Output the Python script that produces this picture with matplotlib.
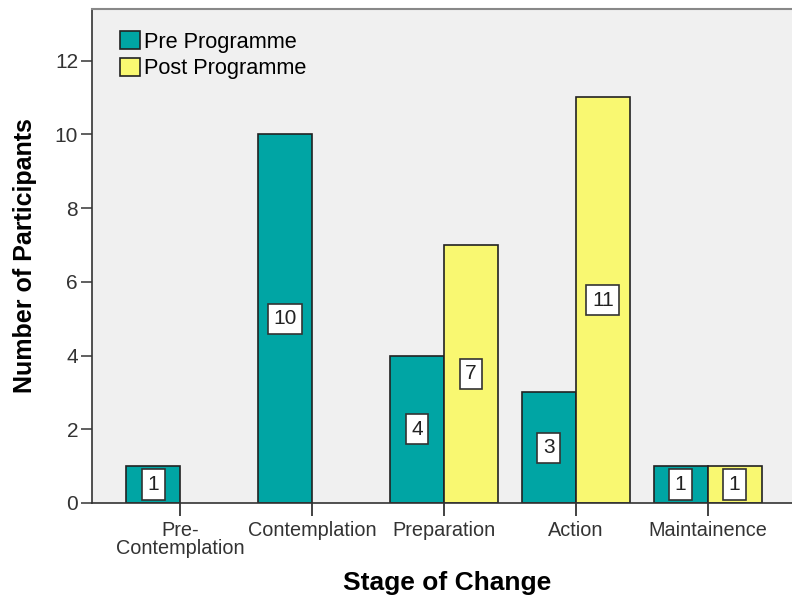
import numpy as np
import matplotlib.pyplot as plt
from matplotlib.patches import Patch

plt.rcParams['font.family'] = ['Liberation Sans', 'DejaVu Sans']

# data
stages = ['Pre-\nContemplation', 'Contemplation', 'Preparation', 'Action', 'Maintainence']
pre_programme = [1, 10, 4, 3, 1]
post_programme = [0, 0, 7, 11, 1]

teal = '#00A5A4'
yellow = '#F9F871'

fig = plt.figure(figsize=(7.92, 6.01), dpi=100)
ax_w = 1 - 92 / 792 + 0.01
ax = fig.add_axes([92 / 792, 1 - 503 / 601, ax_w, (503 - 9) / 601])
ax.set_facecolor('#F0F0F0')

x = np.arange(len(stages))
w = 0.41
b1 = ax.bar(x - w / 2, pre_programme, w, color=teal, edgecolor='#222222', linewidth=1.2, zorder=2)
b2 = ax.bar(x + w / 2, post_programme, w, color=yellow, edgecolor='#222222', linewidth=1.2, zorder=2)

# value labels in white boxes at bar mid-height; hide empty bars
for bars, vals in [(b1, pre_programme), (b2, post_programme)]:
    for bar, v in zip(bars, vals):
        if v == 0:
            bar.set_visible(False)
            continue
        ax.text(bar.get_x() + bar.get_width() / 2, v / 2, str(v), ha='center', va='center',
                fontsize=15, color='#222222', zorder=3,
                bbox=dict(boxstyle='square,pad=0.27', facecolor='white', edgecolor='#333333', linewidth=1.2))

ax.set_xlim(-0.67, 4.7)
ax.set_ylim(0, 13.4)
ax.set_yticks(range(0, 13, 2))
ax.set_xticks(x)
ax.set_xticklabels(stages, fontsize=14.3, color='#333333', linespacing=0.95)
ax.tick_params(axis='y', labelsize=15, colors='#444444', labelcolor='#333333', length=8, width=1.2, pad=2)
ax.tick_params(axis='x', colors='#222222', labelcolor='#333333', length=9, width=1.2, pad=4)

for side in ['left', 'bottom']:
    ax.spines[side].set_color('#333333')
    ax.spines[side].set_linewidth(1.2)
ax.spines['top'].set_color('#888888')
ax.spines['top'].set_linewidth(1.5)
ax.spines['right'].set_visible(False)

ax.set_ylabel('Number of Participants', fontsize=18, fontweight='bold')
ax.set_xlabel('Stage of Change', fontsize=19, fontweight='bold')
ax.yaxis.set_label_coords(-0.078, 0.5)
ax.xaxis.set_label_coords((447 - 92) / (792 * ax_w), -(583 - 503) / 494)
ax.xaxis.label.set_va('center')

handles = [Patch(facecolor=teal, edgecolor='#222222', linewidth=1.2, label='Pre Programme'),
           Patch(facecolor=yellow, edgecolor='#222222', linewidth=1.2, label='Post Programme')]
ax.legend(handles=handles, loc='upper left', bbox_to_anchor=(28 / (792 * ax_w), 0.955),
          frameon=False, fontsize=15.7, handlelength=0.9, handleheight=0.9, handletextpad=0.2,
          labelspacing=0.22, borderaxespad=0.0, borderpad=0.0)

fig.savefig('out.png', dpi=100)
